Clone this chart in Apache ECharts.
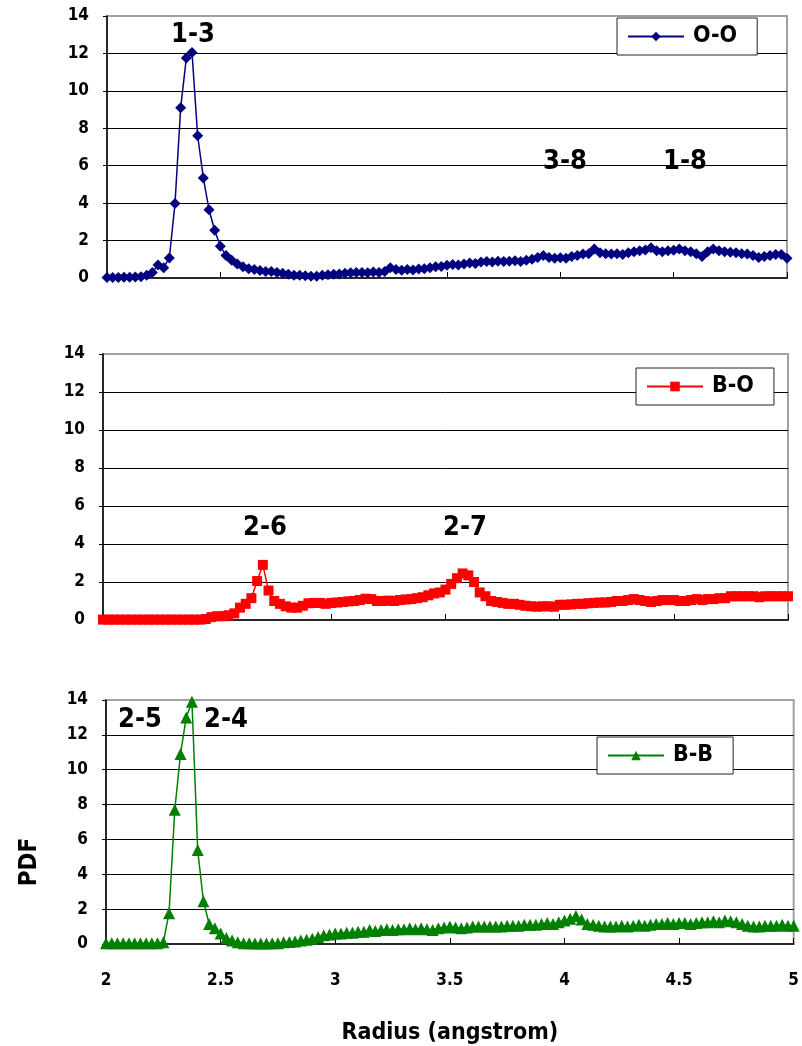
<!DOCTYPE html>
<html><head><meta charset="utf-8">
<script src="https://cdn.jsdelivr.net/npm/echarts@6/dist/echarts.min.js"></script>
<style>html,body{margin:0;padding:0;background:#fff}#c{width:802px;height:1046px}</style>
</head><body><div id="c"></div>
<script>
const radius = [2.000,2.025,2.050,2.075,2.100,2.125,2.150,2.175,2.200,2.225,2.250,2.275,2.300,2.325,2.350,2.375,2.400,2.425,2.450,2.475,
2.500,2.525,2.550,2.575,2.600,2.625,2.650,2.675,2.700,2.725,2.750,2.775,2.800,2.825,2.850,2.875,2.900,2.925,2.950,2.975,
3.000,3.025,3.050,3.075,3.100,3.125,3.150,3.175,3.200,3.225,3.250,3.275,3.300,3.325,3.350,3.375,3.400,3.425,3.450,3.475,
3.500,3.525,3.550,3.575,3.600,3.625,3.650,3.675,3.700,3.725,3.750,3.775,3.800,3.825,3.850,3.875,3.900,3.925,3.950,3.975,
4.000,4.025,4.050,4.075,4.100,4.125,4.150,4.175,4.200,4.225,4.250,4.275,4.300,4.325,4.350,4.375,4.400,4.425,4.450,4.475,
4.500,4.525,4.550,4.575,4.600,4.625,4.650,4.675,4.700,4.725,4.750,4.775,4.800,4.825,4.850,4.875,4.900,4.925,4.950,4.975,5.000];

const pdfOO = [0.03,0.03,0.03,0.04,0.04,0.05,0.07,0.15,0.3,0.7,0.55,1.07,3.98,9.1,11.75,12.05,7.6,5.35,3.65,2.55,
1.7,1.2,0.95,0.75,0.6,0.5,0.45,0.4,0.35,0.35,0.3,0.25,0.2,0.15,0.15,0.12,0.1,0.1,0.15,0.18,
0.2,0.22,0.25,0.28,0.3,0.3,0.28,0.32,0.3,0.35,0.55,0.45,0.42,0.45,0.43,0.48,0.5,0.55,0.6,0.62,
0.68,0.72,0.7,0.75,0.8,0.78,0.85,0.88,0.85,0.9,0.88,0.9,0.92,0.88,0.95,1.0,1.1,1.2,1.1,1.05,
1.08,1.05,1.15,1.2,1.28,1.3,1.55,1.35,1.3,1.28,1.3,1.25,1.35,1.4,1.45,1.5,1.62,1.45,1.4,1.45,
1.48,1.55,1.45,1.4,1.3,1.15,1.4,1.55,1.45,1.4,1.38,1.35,1.3,1.28,1.2,1.1,1.15,1.2,1.25,1.25,1.05];

const pdfBO = [0.02,0.02,0.02,0.02,0.02,0.02,0.02,0.02,0.02,0.02,0.02,0.02,0.02,0.02,0.02,0.02,0.02,0.02,0.05,0.15,
0.2,0.2,0.25,0.35,0.65,0.85,1.15,2.05,2.9,1.55,1.0,0.85,0.72,0.65,0.65,0.75,0.88,0.9,0.9,0.85,
0.9,0.92,0.95,0.98,1.0,1.05,1.12,1.1,1.0,1.0,1.02,1.0,1.05,1.08,1.1,1.15,1.2,1.3,1.4,1.45,
1.6,1.9,2.2,2.45,2.35,2.0,1.45,1.25,1.0,0.95,0.9,0.85,0.85,0.8,0.75,0.72,0.7,0.72,0.72,0.7,
0.8,0.8,0.82,0.85,0.85,0.88,0.9,0.92,0.92,0.95,1.0,1.0,1.05,1.1,1.05,1.0,0.95,1.0,1.05,1.05,
1.05,1.0,1.0,1.05,1.1,1.05,1.1,1.1,1.15,1.15,1.25,1.25,1.25,1.25,1.25,1.2,1.25,1.25,1.25,1.25,1.25];

const pdfBB = [0.05,0.05,0.05,0.05,0.05,0.05,0.05,0.05,0.05,0.05,0.1,1.77,7.7,10.9,13.0,13.9,5.4,2.45,1.15,0.9,
0.6,0.35,0.2,0.1,0.05,0.05,0.03,0.03,0.03,0.05,0.05,0.1,0.12,0.15,0.2,0.25,0.3,0.4,0.5,0.55,
0.6,0.6,0.65,0.65,0.7,0.7,0.8,0.75,0.8,0.85,0.8,0.85,0.85,0.9,0.85,0.9,0.85,0.8,0.9,0.95,
1.0,0.95,0.9,0.95,1.0,1.0,1.0,1.0,1.0,1.0,1.05,1.05,1.05,1.1,1.1,1.1,1.15,1.2,1.15,1.25,
1.35,1.45,1.6,1.4,1.15,1.1,1.05,1.0,1.0,1.0,1.05,1.0,1.05,1.1,1.05,1.1,1.15,1.15,1.2,1.15,
1.2,1.2,1.15,1.2,1.25,1.25,1.3,1.25,1.35,1.3,1.25,1.15,1.05,1.0,1.0,1.05,1.05,1.05,1.1,1.05,1.05];

const seriesNames = ['O-O','B-O','B-B'];
const peakLabels = [
  {text:'1-3', x:193, y:35},
  {text:'3-8', x:565, y:162},
  {text:'1-8', x:685, y:162},
  {text:'2-6', x:265, y:528},
  {text:'2-7', x:465, y:528},
  {text:'2-5', x:140, y:720},
  {text:'2-4', x:226, y:720}
];
const xTitle = 'Radius (angstrom)';
const yTitle = 'PDF';

const FONT = "'Liberation Sans Narrow','DejaVu Sans Condensed','Noto Sans',sans-serif";
const chart = echarts.init(document.getElementById('c'), null, {renderer:'canvas'});

const grids = [
  {left:107, right:15, top:16, height:262},
  {left:103, right:14, top:354, height:266},
  {left:106, right:5, top:700, height:248}
];
const colors = ['#000080','#ff0000','#008000'];
const symbols = ['diamond','rect','triangle'];
const symSizes = [11,10,12];
const legends = [
  {left:617, top:18},
  {left:636, top:368},
  {left:597, top:737}
];
const datas = [pdfOO, pdfBO, pdfBB];

const option = {
  animation:false,
  backgroundColor:'#fff',
  textStyle:{fontFamily:FONT},
  grid: grids.map(g => Object.assign({show:true, borderColor:'#a0a0a0', borderWidth:2, backgroundColor:'#fff'}, g)),
  xAxis: grids.map((g,i) => ({
    type:'value', gridIndex:i, min:2, max:5, interval:0.5,
    axisLine:{show:true, onZero:false, lineStyle:{color:'#000', width:1.5}},
    axisTick:{show:true, inside:true, length:6, lineStyle:{color:'#000'}},
    axisLabel:{show:i===2, fontSize:17, fontWeight:'bold', color:'#000', margin:28, fontFamily:FONT},
    splitLine:{show:false},
    name: i===2 ? xTitle : '',
    nameLocation:'middle', nameGap:78,
    nameTextStyle:{fontSize:23, fontWeight:'bold', color:'#000', fontFamily:FONT}
  })),
  yAxis: grids.map((g,i) => ({
    type:'value', gridIndex:i, min:0, max:14, interval:2,
    axisLine:{show:true, lineStyle:{color:'#000', width:1.5}},
    axisTick:{show:true, length:4, lineStyle:{color:'#000'}},
    axisLabel:{fontSize:17, fontWeight:'bold', color:'#000', margin:18, fontFamily:FONT},
    splitLine:{show:true, showMinLine:false, showMaxLine:false, lineStyle:{color:'#000', width:1}}
  })),
  legend: legends.map((l,i) => ({
    left:l.left, top:l.top, data:[seriesNames[i]],
    orient:'horizontal', padding:[7,20,7,10], itemGap:4,
    backgroundColor:'#fff', borderColor:'#222', borderWidth:1,
    itemWidth:56, itemHeight:12, selectedMode:false,
    textStyle:{fontSize:23, fontWeight:'bold', color:'#000', fontFamily:FONT, padding:[0,0,0,4]}
  })),
  series: datas.map((d,i) => ({
    name:seriesNames[i], type:'line', xAxisIndex:i, yAxisIndex:i,
    data: radius.map((r,k) => [r, d[k]]),
    symbol:symbols[i], symbolSize:symSizes[i], showAllSymbol:true, clip:false,
    lineStyle:{color:colors[i], width:1.5},
    itemStyle:{color:colors[i], borderWidth:0}
  })),
  graphic: peakLabels.map(p => ({
    type:'text', z:100, x:p.x, y:p.y,
    style:{text:p.text, align:'center', verticalAlign:'middle', fill:'#000',
      font:"bold 27px " + FONT}
  })).concat([
    {type:'text', z:100, x:30, y:862, rotation:Math.PI/2,
     style:{text:yTitle, align:'center', verticalAlign:'middle', fill:'#000', font:"bold 24px " + FONT}}
  ])
};
chart.setOption(option);
</script></body></html>
